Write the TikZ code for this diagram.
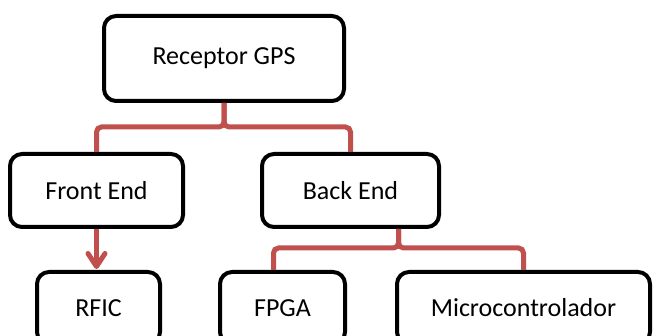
\documentclass[tikz,border=0pt]{standalone}
\usepackage{fontspec}
\setmainfont{Carlito}
\usetikzlibrary{arrows.meta,calc}
\definecolor{connred}{HTML}{C0504D}
\begin{document}
\begin{tikzpicture}[x=1pt,y=-1pt,
  box/.style={draw=black, line width=4pt, rounded corners=12pt, fill=white,
    inner sep=0pt, font=\fontsize{26}{30}\selectfont},
  link/.style={draw=connred, line width=5pt, rounded corners=5pt},
  feed/.style={draw=connred, line width=5pt, shorten >=1pt,
    -{Straight Barb[length=13pt,width=17pt,round]}},
]
\useasboundingbox (0,0) rectangle (653,336);
\clip (0,0) rectangle (653,336);

% boxes
\node[box, minimum width=240, minimum height=85] (gps)   at (224,58.5)  {Receptor GPS};
\node[box, minimum width=173, minimum height=73] (front) at (96.5,190.5) {Front End};
\node[box, minimum width=177, minimum height=73] (back)  at (350.5,190.5) {Back End};
\node[box, minimum width=123, minimum height=72] (rfic)  at (98.5,308)  {RFIC};
\node[box, minimum width=125, minimum height=72] (fpga)  at (282.5,308) {FPGA};
\node[box, minimum width=253, minimum height=72] (micro) at (523.5,308) {Microcontrolador};

% bracket under the receiver
\path (gps.south) ++(0,24) coordinate (topbar);
\draw[link] (front.north) |- (topbar) -- (gps.south);
\draw[link] (back.north)  |- (topbar) -- (gps.south);

% bracket under the back end
\coordinate (fleg) at ($(fpga.north)+(-9,0)$);
\coordinate (mleg) at (micro.north);
\coordinate (mid) at ($(fleg)!0.5!(mleg)$);
\path (back.south) ++(0,19) coordinate (lowy);
\coordinate (lowbar) at (mid |- lowy);
\draw[link] (fleg) |- (lowbar) -- (lowbar |- back.south);
\draw[link] (mleg) |- (lowbar) -- (lowbar |- back.south);

% front end feeds the RF chip
\draw[feed] (front.south) -- (front.south |- rfic.north);
\end{tikzpicture}
\end{document}
